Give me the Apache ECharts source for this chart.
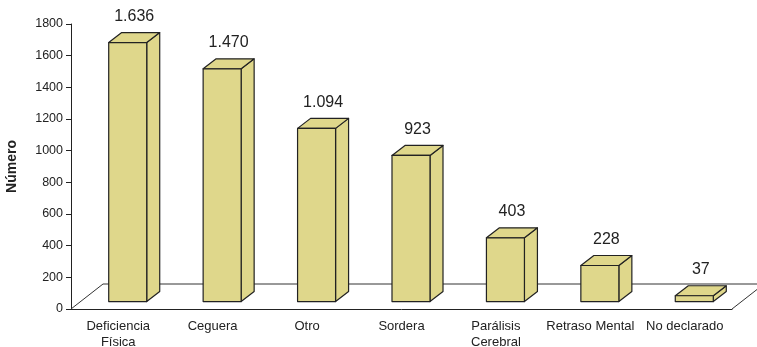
<!DOCTYPE html>
<html>
<head>
<meta charset="utf-8">
<script src="https://cdn.jsdelivr.net/npm/echarts@6/dist/echarts.min.js"></script>
<style>
html,body{margin:0;padding:0;background:#fff;}
#c{width:757px;height:347px;}
</style>
</head>
<body>
<div id="c"></div>
<script>
const categories = ['Deficiencia\nFísica', 'Ceguera', 'Otro', 'Sordera', 'Parálisis\nCerebral', 'Retraso Mental', 'No declarado'];
const values = [1636, 1470, 1094, 923, 403, 228, 37];
const yTicks = [0, 200, 400, 600, 800, 1000, 1200, 1400, 1600, 1800];

function fmt(n) {
  return String(n).replace(/\B(?=(\d{3})+(?!\d))/g, '.');
}

const chart = echarts.init(document.getElementById('c'), null, {renderer: 'canvas'});
const BAR_FILL = '#dfd78b';
const EDGE = '#222';
const FONT = 'Liberation Sans, Arial, sans-serif';
// depth geometry (pixels)
const FLOOR_DX = 32, FLOOR_DY = 25;
const BAR_OX = 9.5, BAR_OY = 7.4;
const SIDE_DX = 13, SIDE_DY = 10;

chart.setOption({
  animation: false,
  backgroundColor: '#fff',
  grid: {left: 71, right: 25, top: 24, bottom: 38, containLabel: false, outerBoundsMode: 'none'},
  xAxis: {
    type: 'category',
    data: categories,
    axisLine: {lineStyle: {color: EDGE, width: 1}},
    axisTick: {length: 5, lineStyle: {color: EDGE}},
    axisLabel: {interval: 0, fontSize: 13, color: '#222', fontFamily: FONT, margin: 10, lineHeight: 15.5}
  },
  yAxis: {
    type: 'value',
    min: yTicks[0],
    max: yTicks[yTicks.length - 1],
    interval: 200,
    name: 'Número',
    nameLocation: 'middle',
    nameGap: 52,
    nameTextStyle: {fontSize: 14, fontWeight: 'bold', color: '#222', fontFamily: FONT},
    axisLine: {show: true, lineStyle: {color: EDGE, width: 1}},
    axisTick: {show: true, length: 5, lineStyle: {color: EDGE}},
    axisLabel: {fontSize: 12.5, color: '#222', margin: 8, fontFamily: FONT, formatter: function (v) { return String(v); }},
    splitLine: {show: false}
  },
  series: [
    {
      type: 'custom',
      z: 1,
      clip: false,
      silent: true,
      data: [[0, 0]],
      renderItem: function (params, api) {
        const bw = api.size([1, 0])[0];
        const p0 = api.coord([0, 0]);
        const pN = api.coord([categories.length - 1, 0]);
        const left = p0[0] - bw / 2, right = pN[0] + bw / 2, y0 = p0[1];
        return {
          type: 'polyline',
          shape: {points: [[left, y0], [left + FLOOR_DX, y0 - FLOOR_DY], [right + FLOOR_DX, y0 - FLOOR_DY], [right, y0]]},
          style: {stroke: '#333', lineWidth: 1, fill: null}
        };
      }
    },
    {
      type: 'custom',
      z: 2,
      clip: false,
      data: values.map((v, i) => [i, v]),
      renderItem: function (params, api) {
        const i = api.value(0), v = api.value(1);
        const bw = api.size([1, 0])[0];
        const base = api.coord([i, 0]);
        const top = api.coord([i, v]);
        const w = bw * 0.4025;
        const x0 = base[0] + BAR_OX - w / 2, x1 = x0 + w;
        const yb = base[1] - BAR_OY, yt = top[1] - BAR_OY;
        const st = {fill: BAR_FILL, stroke: EDGE, lineWidth: 1.2, lineJoin: 'round'};
        return {
          type: 'group',
          children: [
            {type: 'polygon', shape: {points: [[x1, yb], [x1 + SIDE_DX, yb - SIDE_DY], [x1 + SIDE_DX, yt - SIDE_DY], [x1, yt]]}, style: st},
            {type: 'polygon', shape: {points: [[x0, yt], [x0 + SIDE_DX, yt - SIDE_DY], [x1 + SIDE_DX, yt - SIDE_DY], [x1, yt]]}, style: st},
            {type: 'rect', shape: {x: x0, y: yt, width: w, height: yb - yt}, style: st},
            {type: 'text', x: (x0 + x1) / 2 + SIDE_DX / 2, y: yt - SIDE_DY - 16,
             style: {text: fmt(v), fill: '#222', fontSize: 16, fontFamily: FONT, align: 'center', verticalAlign: 'middle'}}
          ]
        };
      }
    }
  ]
});
</script>
</body>
</html>
